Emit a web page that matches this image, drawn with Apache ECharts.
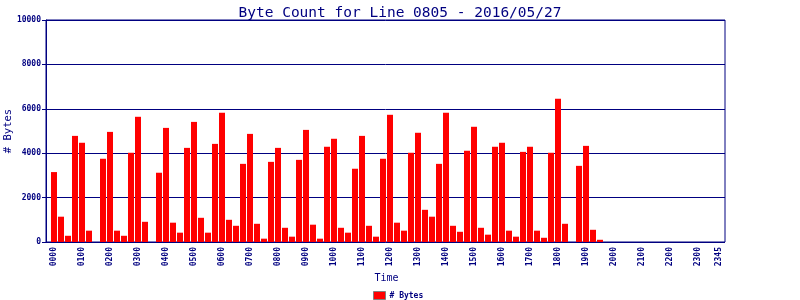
<!DOCTYPE html>
<html>
<head>
<meta charset="utf-8">
<script src="https://cdn.jsdelivr.net/npm/echarts@6/dist/echarts.min.js"></script>
<style>
html,body{margin:0;padding:0;background:#fff;}
#chart{width:800px;height:300px;}
</style>
</head>
<body>
<div id="chart"></div>
<script>
// 15-minute time slots, 0000 .. 2345
const times = [];
for (let h = 0; h < 24; h++) {
  for (let m = 0; m < 60; m += 15) {
    times.push(String(h).padStart(2, '0') + String(m).padStart(2, '0'));
  }
}
const byteCounts = [
  3150, 1140, 280, 4780, 4470, 510, 0, 3750,
  4960, 510, 280, 4020, 5640, 910, 0, 3120,
  5140, 870, 420, 4240, 5410, 1090, 420, 4420,
  5820, 1000, 730, 3520, 4870, 820, 150, 3610,
  4240, 640, 240, 3700, 5050, 780, 150, 4290,
  4650, 640, 420, 3300, 4780, 730, 240, 3750,
  5730, 870, 510, 4020, 4920, 1450, 1140, 3520,
  5820, 730, 460, 4110, 5190, 640, 330, 4290,
  4470, 510, 240, 4060, 4290, 510, 190, 4020,
  6450, 820, 0, 3430, 4330, 550, 100, 0,
  0, 0, 0, 0, 0, 0, 0, 0,
  0, 0, 0, 0, 0, 0, 0, 0
];
const yTicks = [0, 2000, 4000, 6000, 8000, 10000];
const titleText = 'Byte Count for Line 0805 - 2016/05/27';
const seriesName = '# Bytes';

const navy = '#000080';
const mono = '"DejaVu Sans Mono", "Liberation Mono", monospace';

const chart = echarts.init(document.getElementById('chart'), null, {renderer: 'canvas'});
chart.setOption({
  animation: false,
  backgroundColor: '#ffffff',
  title: {
    text: titleText,
    left: 'center',
    top: 0,
    textStyle: {color: navy, fontFamily: mono, fontSize: 14.5, fontWeight: 'normal', lineHeight: 17}
  },
  legend: {
    left: 373,
    top: 291,
    itemWidth: 12,
    itemHeight: 8,
    padding: 0,
    icon: 'rect',
    itemStyle: {borderColor: '#808080', borderWidth: 1},
    textStyle: {color: navy, fontFamily: mono, fontSize: 8, fontWeight: 'bold', padding: [0, 0, 0, -1]},
    data: [seriesName]
  },
  grid: [
    {left: 46, top: 20, width: 679, height: 222, outerBoundsMode: 'none', containLabel: false,
     show: true, borderColor: navy, borderWidth: 1, backgroundColor: 'transparent'},
    {left: 50.5, top: 20, width: 672, height: 222, outerBoundsMode: 'none', containLabel: false}
  ],
  xAxis: [
    {type: 'value', gridIndex: 0, show: false, min: 0, max: 1, splitLine: {show: false}},
    {
      type: 'category', gridIndex: 1, data: times, boundaryGap: true,
      axisLine: {show: false}, axisTick: {show: false},
      axisLabel: {
        rotate: 90, margin: 5, color: navy, fontFamily: mono, fontSize: 8, fontWeight: 'bold',
        interval: function (i) { return i % 4 === 0 || i === times.length - 1; }
      },
      name: 'Time', nameLocation: 'middle', nameGap: 31, nameMoveOverlap: false,
      nameTextStyle: {color: navy, fontFamily: mono, fontSize: 10}
    }
  ],
  yAxis: [
    {
      type: 'value', gridIndex: 0, min: yTicks[0], max: yTicks[yTicks.length - 1], interval: yTicks[1] - yTicks[0],
      axisLine: {show: true, lineStyle: {color: navy}},
      axisTick: {show: true, length: 4, lineStyle: {color: navy}},
      splitLine: {show: true, lineStyle: {color: navy, width: 1}},
      axisLabel: {margin: 5, color: navy, fontFamily: mono, fontSize: 8, fontWeight: 'bold',
                  formatter: function (v) { return String(v); }},
      name: '# Bytes', nameLocation: 'middle', nameGap: 32, nameRotate: 90, nameMoveOverlap: false,
      nameTextStyle: {color: navy, fontFamily: mono, fontSize: 10.5}
    },
    {type: 'value', gridIndex: 1, min: 0, max: 10000, show: false, splitLine: {show: false}}
  ],
  series: [{
    name: seriesName,
    type: 'bar',
    xAxisIndex: 1,
    yAxisIndex: 1,
    data: byteCounts,
    barWidth: 6,
    itemStyle: {color: '#ff0000'}
  }]
});
</script>
</body>
</html>
